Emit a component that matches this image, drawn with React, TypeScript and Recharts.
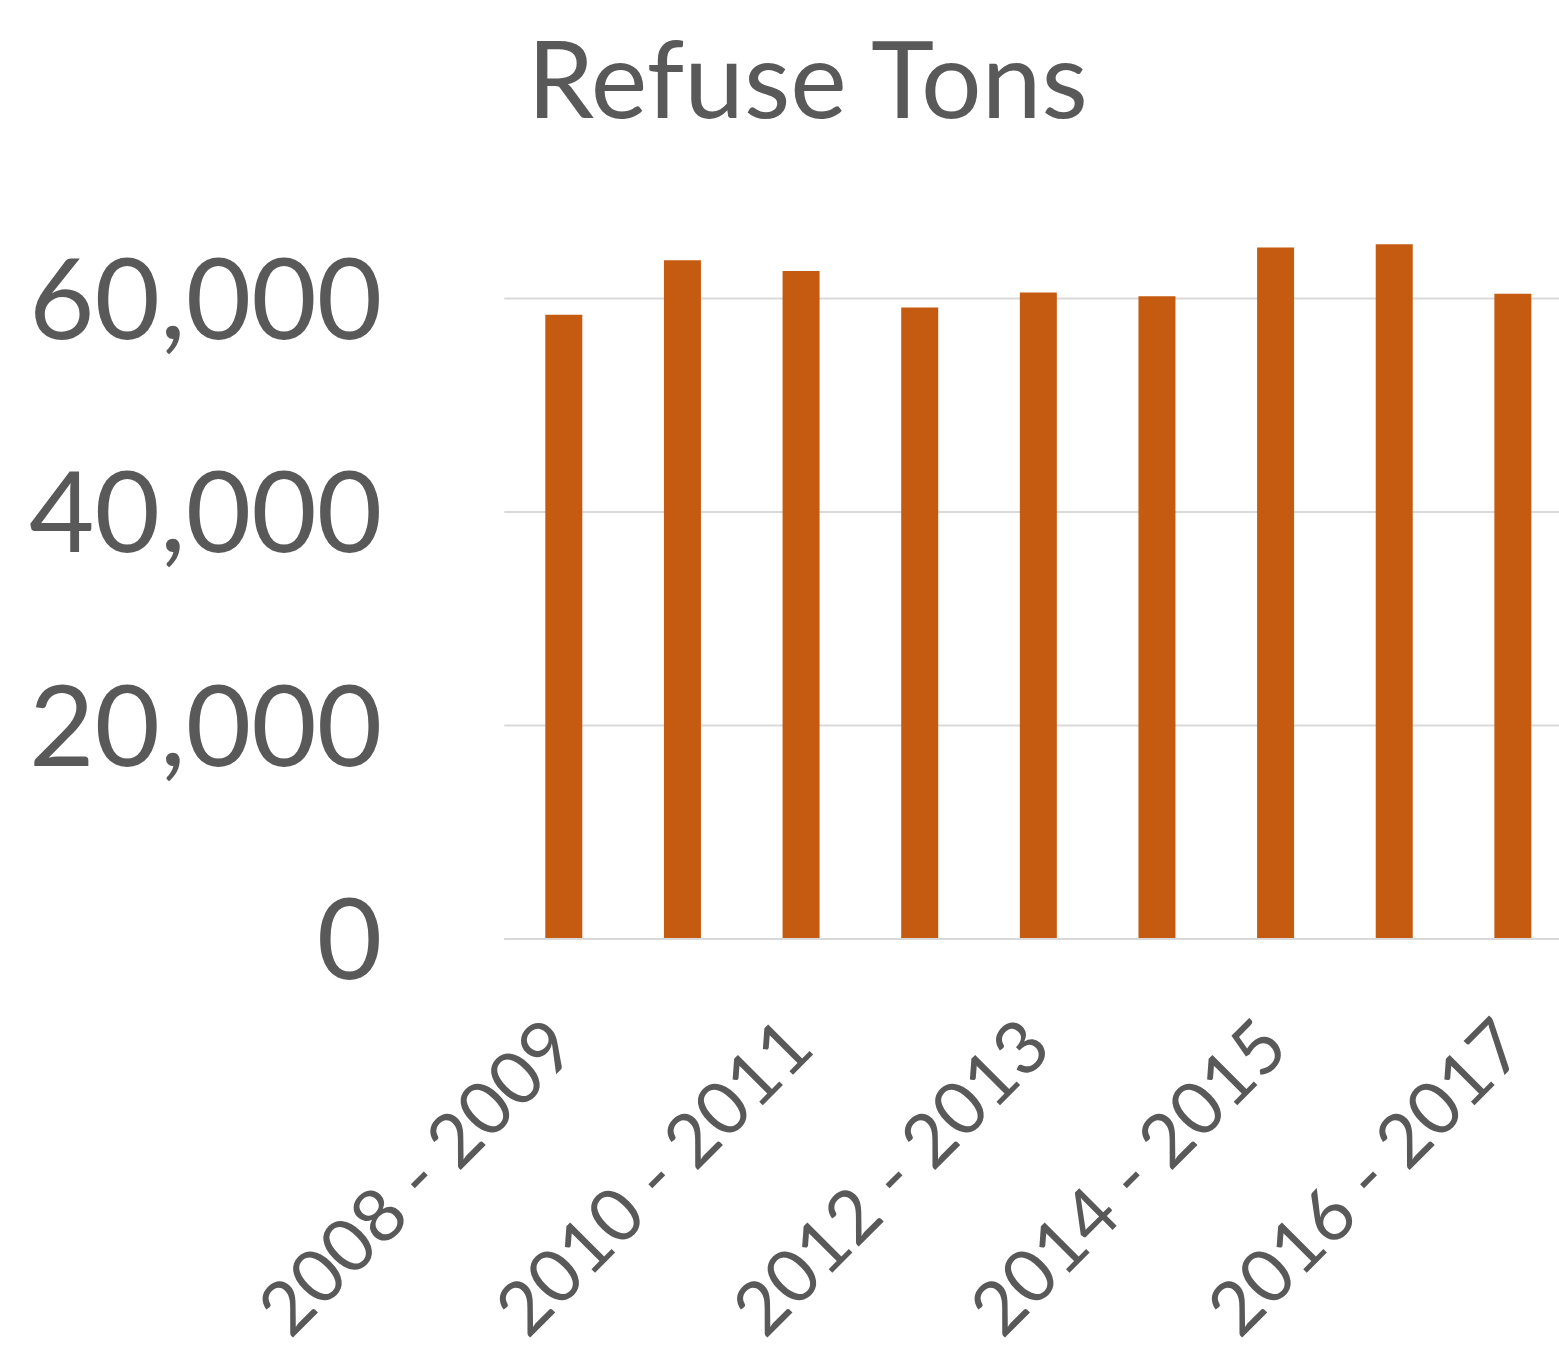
import React from 'react';
import { BarChart, Bar, XAxis, YAxis, CartesianGrid } from 'recharts';

// fiscal years, one bar each
const years = [
    '2008 - 2009', '2009 - 2010', '2010 - 2011', '2011 - 2012', '2012 - 2013',
    '2013 - 2014', '2014 - 2015', '2015 - 2016', '2016 - 2017',
];
const refuseTons = [58480, 63590, 62580, 59150, 60570, 60200, 64780, 65090, 60450];
const yTicks = [0, 20000, 40000, 60000];

const chartData = years.map((year, i) => ({ year, tons: refuseTons[i] }));

const TEXT = '#595959';
const FONT = 'Lato, "Open Sans", sans-serif';

// rotated category label, end of text pinned below-right of the tick
const YearTick = (props: any) => {
    const { x, y, payload } = props;
    const tx = x + 16;
    const ty = y + 104;
    return (
        <text
            x={tx}
            y={ty}
            textAnchor="end"
            transform={`rotate(-45, ${tx}, ${ty})`}
            fill={TEXT}
            fontSize={74}
            fontFamily={FONT}
        >
            {payload.value}
        </text>
    );
};

const App = () => {
    return (
        <div style={{ position: 'absolute', left: 0, top: 0, width: 1559, height: 1350, overflow: 'hidden', background: '#fff' }}>
            <BarChart
                width={1572}
                height={1350}
                data={chartData}
                margin={{ top: 191.75, right: 0, bottom: 0, left: 0 }}
                barCategoryGap={0}
            >
                <CartesianGrid vertical={false} horizontalValues={yTicks} stroke="#D9D9D9" strokeWidth={2} />
                <XAxis
                    dataKey="year"
                    interval={1}
                    height={411}
                    tick={<YearTick />}
                    tickLine={false}
                    axisLine={{ stroke: '#D9D9D9', strokeWidth: 2 }}
                />
                <YAxis
                    width={504.3}
                    domain={[0, 70000]}
                    ticks={yTicks}
                    tickFormatter={(v: number) => v.toLocaleString('en-US')}
                    axisLine={false}
                    tickLine={false}
                    tickMargin={116}
                    tick={{ fill: TEXT, fontSize: 113, fontFamily: FONT }}
                />
                <Bar dataKey="tons" fill="#C55A11" barSize={37} isAnimationActive={false} />
            </BarChart>
            <svg width={1559} height={200} style={{ position: 'absolute', left: 0, top: 0 }}>
                <text x={807.5} y={118} textAnchor="middle" fill={TEXT} fontSize={107} fontFamily={FONT}>
                    Refuse Tons
                </text>
            </svg>
        </div>
    );
};

export default App;
